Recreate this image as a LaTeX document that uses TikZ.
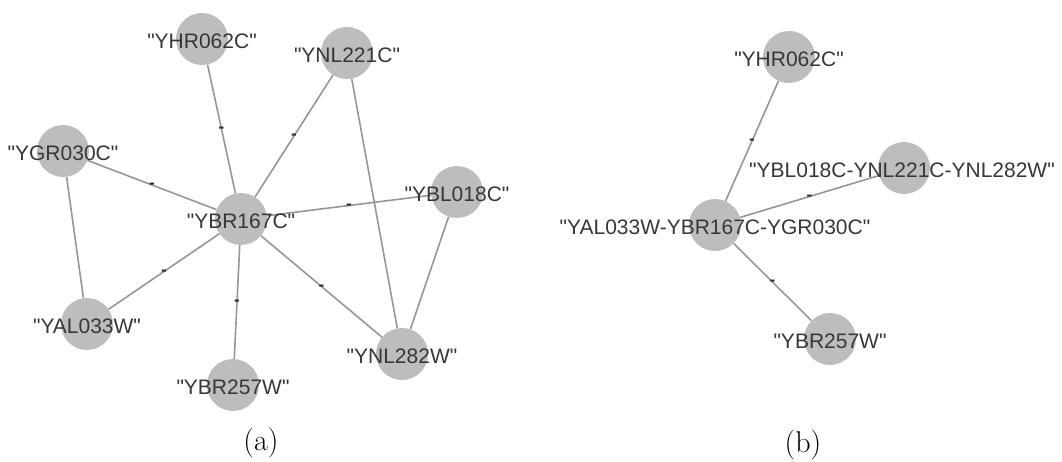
\documentclass[tikz,border=0pt]{standalone}
\usepackage{fontspec}
\newfontfamily\gfont[Ligatures=TeXOff]{Liberation Sans}
\definecolor{nodegray}{RGB}{189,189,189}
\definecolor{edgegray}{RGB}{150,150,150}
\definecolor{textgray}{RGB}{55,55,55}
\tikzset{
  gene/.style={circle,fill=nodegray,draw=none,minimum size=52pt,inner sep=0pt},
  gtext/.style={font=\gfont\fontsize{21}{25}\selectfont,text=textgray,inner sep=0pt,yshift=-2pt},
  link/.style={draw=edgegray,line width=1.6pt},
  tick/.style={font=\gfont\bfseries\fontsize{17}{20}\selectfont,text=textgray!80!black,inner sep=0pt,yshift=-1pt},
  caption/.style={font=\fontsize{30}{34}\selectfont,inner sep=0pt}
}
\begin{document}
\begin{tikzpicture}[x=1pt,y=-1pt]
\useasboundingbox (0,0) rectangle (1062,462);
% ---- (a) the full interaction network
\node[gene] (hr)  at (202,39)  {};
\node[gene] (n221) at (347,53) {};
\node[gene] (gr)  at (63,151)  {};
\node[gene] (b167) at (241,219) {};
\node[gene] (bl)  at (457,192) {};
\node[gene] (al)  at (87,324)  {};
\node[gene] (b257) at (233,385) {};
\node[gene] (n282) at (402,354) {};
\draw[link] (hr) -- node[tick] (t1) {-} (b167);
\draw[link] (n221) -- node[tick] (t2) {-} (b167);
\draw[link] (gr) -- node[tick] (t3) {-} (b167);
\draw[link] (b167) -- node[tick] (t4) {-} (bl);
\draw[link] (b167) -- node[tick] (t5) {-} (al);
\draw[link] (b167) -- node[tick] (t6) {-} (b257);
\draw[link] (b167) -- node[tick] (t7) {-} (n282);
\draw[link] (gr) -- (al);
\draw[link] (n221) -- (n282);
\draw[link] (bl) -- (n282);
\node[gtext] (lhr)  at (hr)   {"YHR062C"};
\node[gtext] (ln221) at (n221) {"YNL221C"};
\node[gtext] (lgr)  at (gr)   {"YGR030C"};
\node[gtext] (lb167) at (b167) {"YBR167C"};
\node[gtext] (lbl)  at (bl)   {"YBL018C"};
\node[gtext] (lal)  at (al)   {"YAL033W"};
\node[gtext] (lb257) at (b257) {"YBR257W"};
\node[gtext] (ln282) at (n282) {"YNL282W"};
\node[caption] (capa) at (261,443) {(a)};
% ---- (b) the merged network
\node[gene] (mhr) at (789,57)  {};
\node[gene] (mbl) at (904,168) {};
\node[gene] (mal) at (715,225) {};
\node[gene] (mbr) at (830,339) {};
\draw[link] (mhr) -- node[tick] (t8) {-} (mal);
\draw[link] (mbl) -- node[tick] (t9) {-} (mal);
\draw[link] (mal) -- node[tick] (t10) {-} (mbr);
\node[gtext] (lmhr) at (mhr) {"YHR062C"};
\node[gtext] (lmbl) at ([xshift=-2pt]mbl) {"YBL018C-YNL221C-YNL282W"};
\node[gtext] (lmal) at (mal) {"YAL033W-YBR167C-YGR030C"};
\node[gtext] (lmbr) at (mbr) {"YBR257W"};
\node[caption] (capb) at (803,445) {(b)};
\end{tikzpicture}
\end{document}
